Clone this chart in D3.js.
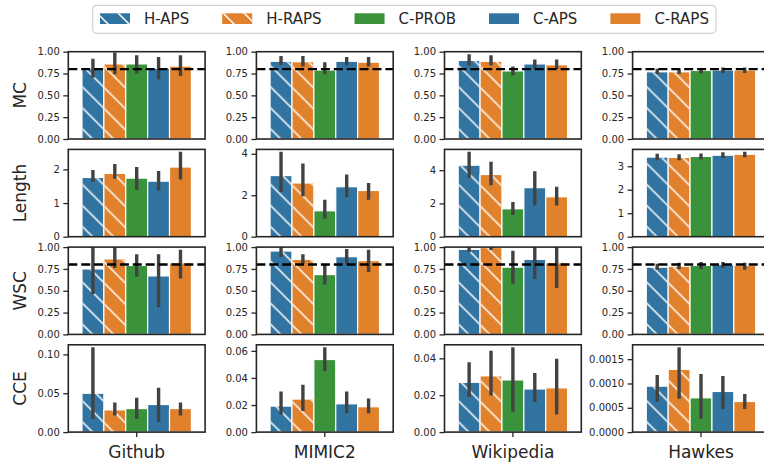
<!DOCTYPE html>
<html>
<head>
<meta charset="utf-8">
<script src="https://cdn.jsdelivr.net/npm/d3@7"></script>
<style>
  body { margin: 0; background: #fff; }
  text { font-family: "DejaVu Sans", sans-serif; fill: #262626; }
</style>
</head>
<body>
<svg id="chart" width="764" height="467"></svg>
<script>
// ---- data ----
const datasets = ['Github', 'MIMIC2', 'Wikipedia', 'Hawkes'];
const metrics = ['MC', 'Length', 'WSC', 'CCE'];
const methods = ['H-APS', 'H-RAPS', 'C-PROB', 'C-APS', 'C-RAPS'];
const hatched = ['H-APS', 'H-RAPS'];

// one inner array per dataset, in methods order
const mcMean = [[0.80, 0.86, 0.86, 0.81, 0.835], [0.89, 0.885, 0.79, 0.89, 0.88], [0.90, 0.89, 0.78, 0.86, 0.85], [0.77, 0.77, 0.785, 0.79, 0.79]];
const mcLow = [[0.72, 0.76, 0.77, 0.70, 0.74], [0.87, 0.85, 0.76, 0.86, 0.85], [0.86, 0.86, 0.75, 0.83, 0.82], [0.765, 0.765, 0.77, 0.775, 0.775]];
const mcHigh = [[0.90, 0.97, 0.94, 0.92, 0.94], [0.93, 0.93, 0.86, 0.92, 0.92], [0.95, 0.94, 0.81, 0.89, 0.89], [0.785, 0.78, 0.795, 0.80, 0.80]];

const lenMean = [[1.76, 1.88, 1.74, 1.65, 2.07], [2.95, 2.59, 1.25, 2.41, 2.23], [4.30, 3.74, 1.68, 2.95, 2.40], [3.39, 3.38, 3.42, 3.47, 3.51]];
const lenLow = [[1.68, 1.77, 1.44, 1.42, 1.75], [2.24, 2.03, 0.95, 1.98, 1.87], [3.64, 3.19, 1.41, 1.98, 1.98], [3.33, 3.33, 3.36, 3.42, 3.45]];
const lenHigh = [[1.93, 2.11, 2.02, 1.90, 2.47], [4.01, 3.45, 1.70, 2.92, 2.51], [5.00, 4.40, 1.98, 3.84, 2.90], [3.46, 3.44, 3.47, 3.52, 3.54]];

const wscMean = [[0.75, 0.865, 0.79, 0.67, 0.82], [0.955, 0.86, 0.685, 0.89, 0.845], [0.975, 0.995, 0.77, 0.86, 0.82], [0.77, 0.78, 0.79, 0.80, 0.79]];
const wscLow = [[0.48, 0.78, 0.68, 0.33, 0.66], [0.905, 0.83, 0.59, 0.83, 0.735], [0.96, 0.985, 0.60, 0.655, 0.55], [0.76, 0.77, 0.77, 0.78, 0.76]];
const wscHigh = [[1.05, 1.00, 0.90, 0.90, 0.95], [1.02, 0.90, 0.78, 0.96, 0.95], [1.00, 1.00, 0.94, 1.02, 1.02], [0.79, 0.80, 0.81, 0.81, 0.80]];

const cceMean = [[0.050, 0.0286, 0.0303, 0.0355, 0.0303], [0.0192, 0.0244, 0.0536, 0.0209, 0.0187], [0.027, 0.0305, 0.0283, 0.0234, 0.024], [0.000945, 0.00129, 0.000705, 0.000836, 0.00063]];
const cceLow = [[0.019, 0.0236, 0.019, 0.0154, 0.0236], [0.0143, 0.0168, 0.0463, 0.0151, 0.0151], [0.020, 0.0208, 0.012, 0.0172, 0.0105], [0.00066, 0.00072, 0.00031, 0.00051, 0.00051]];
const cceHigh = [[0.107, 0.036, 0.042, 0.055, 0.036], [0.0287, 0.0337, 0.0614, 0.0287, 0.0235], [0.037, 0.0432, 0.0451, 0.0312, 0.0389], [0.00114, 0.00171, 0.00116, 0.00112, 0.00075]];

// y tick labels per panel (row = metric, col = dataset)
const rateTicks = [0, 0.25, 0.5, 0.75, 1.0];
const lenTicks = [[0, 1, 2], [0, 2, 4], [0, 2, 4], [0, 1, 2, 3]];
const cceTicks = [[0, 0.05, 0.10], [0, 0.02, 0.04, 0.06], [0, 0.02, 0.04], [0, 0.0005, 0.0010, 0.0015]];
const cceFormats = ['.2f', '.2f', '.2f', '.4f'];
const targetLevel = 0.8;

// ---- layout ----
const left0 = 68.3, colStep = 188.1, pw = 136.8;
const top0 = 51.7, rowStep = 97.7, ph = 87.3;
const colors = { 'H-APS': '#3274a1', 'H-RAPS': '#e1812c', 'C-PROB': '#3a923a', 'C-APS': '#3274a1', 'C-RAPS': '#e1812c' };
const ink = '#262626';

const svg = d3.select('#chart');
const defs = svg.append('defs');

// white "\" hatch, anchored to user space like matplotlib
const hatch = defs.append('pattern')
  .attr('id', 'hatch')
  .attr('patternUnits', 'userSpaceOnUse')
  .attr('width', 21)
  .attr('height', 21);
hatch.append('path')
  .attr('d', 'M0,0 L21,21 M-3,18 L3,24 M18,-3 L24,3')
  .attr('stroke', '#fff')
  .attr('stroke-width', 1.5)
  .attr('fill', 'none');

// build the row config from the arrays
const rows = [
  { name: 'MC', mean: mcMean, low: mcLow, high: mcHigh, fixed: 1, ticks: () => rateTicks, fmt: () => '.2f', line: true },
  { name: 'Length', mean: lenMean, low: lenLow, high: lenHigh, fixed: null, ticks: c => lenTicks[c], fmt: () => 'd', line: false },
  { name: 'WSC', mean: wscMean, low: wscLow, high: wscHigh, fixed: 1, ticks: () => rateTicks, fmt: () => '.2f', line: true },
  { name: 'CCE', mean: cceMean, low: cceLow, high: cceHigh, fixed: null, ticks: c => cceTicks[c], fmt: c => cceFormats[c], line: false }
];

rows.forEach((row, r) => {
  const top = top0 + r * rowStep;

  // row label
  svg.append('text')
    .attr('transform', `translate(26,${top + ph / 2}) rotate(-90)`)
    .attr('text-anchor', 'middle')
    .style('font-size', '17px')
    .text(row.name);

  datasets.forEach((ds, c) => {
    const left = left0 + c * colStep;
    const g = svg.append('g').attr('transform', `translate(${left},${top})`);

    const ymax = row.fixed || d3.max(row.high[c]) * 1.05;
    const y = d3.scaleLinear().domain([0, ymax]).range([ph, 0]);
    const x = d3.scaleLinear().domain([-0.5, 0.5]).range([0, pw]);
    const band = d3.scaleBand().domain(methods).range([x(-0.4), x(0.4)]);

    const clipId = `clip-${r}-${c}`;
    defs.append('clipPath').attr('id', clipId)
      .append('rect').attr('width', pw).attr('height', ph);
    const plot = g.append('g').attr('clip-path', `url(#${clipId})`);

    const recs = methods.map((m, i) => ({
      m, mean: row.mean[c][i], lo: row.low[c][i], hi: row.high[c][i]
    }));

    plot.selectAll('rect.bar').data(recs).join('rect')
      .attr('class', 'bar')
      .attr('x', d => band(d.m))
      .attr('width', band.bandwidth())
      .attr('y', d => y(d.mean))
      .attr('height', d => ph - y(d.mean))
      .attr('fill', d => colors[d.m])
      .attr('stroke', '#fff')
      .attr('stroke-width', 1.2);

    plot.selectAll('rect.hatch').data(recs.filter(d => hatched.includes(d.m))).join('rect')
      .attr('class', 'hatch')
      .attr('x', d => band(d.m) + 0.6)
      .attr('width', band.bandwidth() - 1.2)
      .attr('y', d => y(d.mean) + 0.6)
      .attr('height', d => ph - y(d.mean) - 0.6)
      .attr('fill', 'url(#hatch)');

    plot.selectAll('line.err').data(recs).join('line')
      .attr('class', 'err')
      .attr('x1', d => band(d.m) + band.bandwidth() / 2)
      .attr('x2', d => band(d.m) + band.bandwidth() / 2)
      .attr('y1', d => y(d.lo))
      .attr('y2', d => y(d.hi))
      .attr('stroke', '#424242')
      .attr('stroke-width', 3.4)
      .attr('stroke-linecap', 'square');

    if (row.line) {
      plot.append('line')
        .attr('x1', 0).attr('x2', pw)
        .attr('y1', y(targetLevel)).attr('y2', y(targetLevel))
        .attr('stroke', '#000')
        .attr('stroke-width', 2.4)
        .attr('stroke-dasharray', '9,3.9');
    }

    // frame
    g.append('rect')
      .attr('width', pw).attr('height', ph)
      .attr('fill', 'none')
      .attr('stroke', ink)
      .attr('stroke-width', 1.6);

    // y axis
    const yAxis = g.append('g')
      .call(d3.axisLeft(y).tickValues(row.ticks(c)).tickFormat(d3.format(row.fmt(c))).tickSize(5).tickPadding(3.5));
    yAxis.select('.domain').remove();
    yAxis.selectAll('.tick line').attr('stroke', ink).attr('stroke-width', 1.3);
    yAxis.selectAll('.tick text')
      .style('font-size', '10px')
      .style('font-family', '"DejaVu Sans", sans-serif')
      .attr('fill', ink);

    // x tick + dataset label on bottom row
    if (r === rows.length - 1) {
      g.append('line')
        .attr('x1', x(0)).attr('x2', x(0))
        .attr('y1', ph).attr('y2', ph + 5)
        .attr('stroke', ink).attr('stroke-width', 1.3);
      g.append('text')
        .attr('x', x(0))
        .attr('y', ph + 26)
        .attr('text-anchor', 'middle')
        .style('font-size', '17px')
        .text(ds);
    }
  });
});

// ---- legend ----
const legend = svg.append('g').attr('class', 'legend');
const box = legend.append('rect');
let cursor = 100;
methods.forEach(m => {
  legend.append('rect')
    .attr('x', cursor).attr('y', 13.3)
    .attr('width', 30).attr('height', 10.7)
    .attr('fill', colors[m]);
  if (hatched.includes(m)) {
    legend.append('rect')
      .attr('x', cursor).attr('y', 13.3)
      .attr('width', 30).attr('height', 10.7)
      .attr('fill', 'url(#hatch)');
  }
  const t = legend.append('text')
    .attr('x', cursor + 44)
    .attr('y', 24.3)
    .style('font-size', '15px')
    .text(m);
  cursor += 44 + t.node().getComputedTextLength() + 33;
});
box.attr('x', 92.7).attr('y', 5.3)
  .attr('width', cursor - 33 + 7 - 92.7)
  .attr('height', 28)
  .attr('rx', 4)
  .attr('fill', '#fff')
  .attr('stroke', '#d0d0d0')
  .attr('stroke-width', 1.2);
</script>
</body>
</html>
